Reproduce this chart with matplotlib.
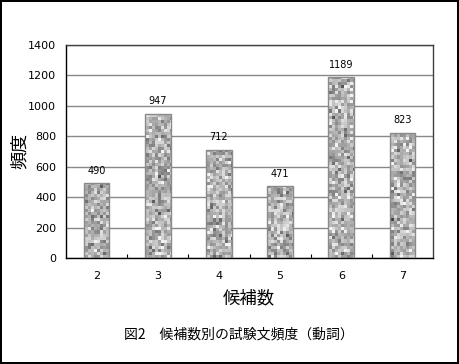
import matplotlib
matplotlib.use("Agg")
import matplotlib.pyplot as plt
import numpy as np

plt.rcParams["font.family"] = ["DejaVu Sans", "Noto Sans CJK JP"]
JP = ["Noto Sans CJK JP", "DejaVu Sans"]

# data
candidates = ["2", "3", "4", "5", "6", "7"]
freq = [490, 947, 712, 471, 1189, 823]
yticks = [0, 200, 400, 600, 800, 1000, 1200, 1400]

fig = plt.figure(figsize=(4.59, 3.64), dpi=100)
fig.patch.set_facecolor("white")
fig.patch.set_edgecolor("black")
fig.patch.set_linewidth(1.5)
ax = fig.add_axes([0.1438, 0.2912, 0.7996, 0.5852])

x = np.arange(len(candidates))
bars = ax.bar(x, freq, width=0.42, facecolor="none", edgecolor="#8a8a8a",
              linewidth=1, zorder=3)

# speckled grey texture clipped to each bar
rng = np.random.default_rng(7)
for b in bars:
    bx, bw, bh = b.get_x(), b.get_width(), b.get_height()
    ny = max(int(bh / 1400 * 213 / 3), 2)
    tex = np.clip(rng.normal(0.70, 0.13, size=(ny + 2, 10)), 0.25, 0.95)
    pad = bw * 0.1
    im = ax.imshow(tex, extent=[bx - pad, bx + bw + pad, 0, bh * 1.06], aspect="auto",
                   cmap="gray", vmin=0, vmax=1, interpolation="nearest", zorder=2)
    im.set_clip_path(b)

for xi, v in zip(x, freq):
    ax.annotate(str(v), (xi, v), xytext=(0, 9), textcoords="offset points",
                ha="center", va="center", fontsize=7)

ax.set_xlim(-0.5, len(candidates) - 0.5)
ax.set_ylim(0, 1400)
ax.set_yticks(yticks)
ax.set_xticks(x)
ax.set_xticklabels(candidates)
ax.set_xticks(x[:-1] + 0.5, minor=True)
ax.tick_params(axis="x", which="major", length=0, pad=9, labelsize=8)
ax.tick_params(axis="x", which="minor", direction="in", length=3, width=0.8)
ax.tick_params(axis="y", length=0, pad=7, labelsize=8)
ax.yaxis.grid(True, color="#888888", linewidth=1, zorder=0)
ax.set_axisbelow(True)
for s in ["left", "bottom"]:
    ax.spines[s].set_color("black")
    ax.spines[s].set_linewidth(1)
for s in ["top", "right"]:
    ax.spines[s].set_color("#404040")
    ax.spines[s].set_linewidth(1)

fig.text(0.044, 0.585, "頻度", rotation=90, ha="center", va="center",
         fontsize=13, family=JP)
fig.text(0.543, 0.181, "候補数", ha="center", va="center", fontsize=12.5, family=JP)
fig.text(0.52, 0.080, "図2\u3000候補数別の試験文頻度（動詞）", ha="center", va="center",
         fontsize=10, family=JP)

fig.savefig("out.png", dpi=100)
